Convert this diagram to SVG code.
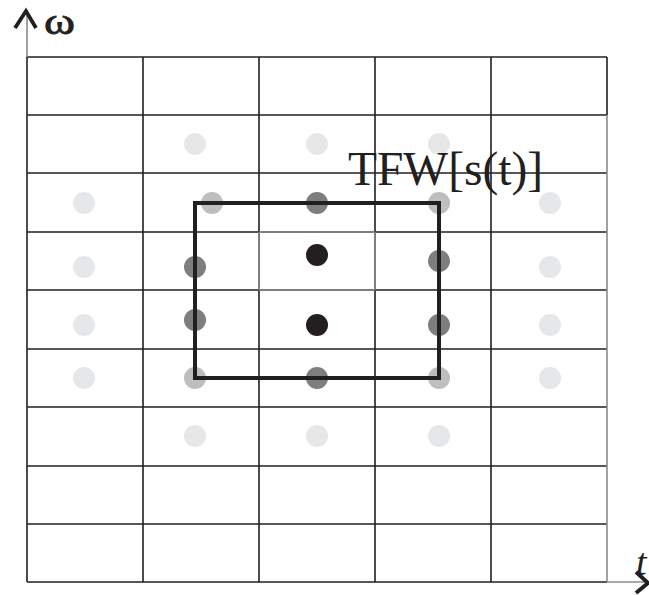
<svg xmlns="http://www.w3.org/2000/svg" width="649" height="595" viewBox="0 0 649 595">
<style>
.g{stroke:#231f20;stroke-width:1.6;fill:none}
.gl{stroke:#8a8b8d;stroke-width:1.6;fill:none}
.ax{stroke:#231f20;stroke-width:3.8;fill:none;stroke-linecap:butt}
.d0{fill:#e6e7e8}.d1{fill:#bcbec0}.d2{fill:#7d7e80}.d3{fill:#231f20}
text{font-family:"Liberation Serif","Times New Roman",serif;fill:#231f20}
</style>
<rect width="649" height="595" fill="#fff"/>
<g id="grid">
<path class="g" d="M27 57H607M27 115H607M27 173H607M27 232H607M27 290H607M27 349H607M27 407H607M27 466H607M27 524H607M27 582H607"/>
<path class="g" d="M27 57V582M143 57V582M259 57V582M375 57V582M491 57V582M607 57V115"/>
<path class="gl" d="M607 115V582M259 232H375M259 290H375M259 232V290M375 232V290"/>
</g>
<g id="axes">
<path class="gl" d="M27 10V57" stroke-width="1.2"/>
<path class="ax" d="M15 28L26 11L36 28"/>
<path class="gl" d="M607 582H648"/>
<path class="ax" d="M636 572L648 583L636 593"/>
<text id="omega" x="44" y="34" font-size="38" stroke="#231f20" stroke-width="0.8" textLength="31" lengthAdjust="spacingAndGlyphs">ω</text>
<text id="t" x="636" y="575" font-size="38" font-style="italic">t</text>
</g>
<g id="dots">
<circle class="d0" cx="195" cy="144" r="11"/><circle class="d0" cx="317" cy="144" r="11"/><circle class="d0" cx="439" cy="144" r="11"/>
<circle class="d0" cx="84" cy="203" r="11"/><circle class="d0" cx="550" cy="203" r="11"/>
<circle class="d0" cx="84" cy="267" r="11"/><circle class="d0" cx="550" cy="267" r="11"/>
<circle class="d0" cx="84" cy="325" r="11"/><circle class="d0" cx="550" cy="325" r="11"/>
<circle class="d0" cx="84" cy="378" r="11"/><circle class="d0" cx="550" cy="378" r="11"/>
<circle class="d0" cx="195" cy="436" r="11"/><circle class="d0" cx="317" cy="436" r="11"/><circle class="d0" cx="439" cy="436" r="11"/>
<circle class="d1" cx="212" cy="203" r="11"/><circle class="d1" cx="439" cy="203" r="11"/>
<circle class="d1" cx="195" cy="378" r="11"/><circle class="d1" cx="439" cy="378" r="11"/>
<circle class="d2" cx="317" cy="203" r="11"/><circle class="d2" cx="317" cy="378" r="11"/>
<circle class="d2" cx="195" cy="267" r="11"/><circle class="d2" cx="195" cy="320" r="11"/>
<circle class="d2" cx="439" cy="261" r="11"/><circle class="d2" cx="439" cy="325" r="11"/>
<circle class="d3" cx="317" cy="255" r="11"/><circle class="d3" cx="317" cy="325" r="11"/>
</g>
<g id="window">
<rect x="195" y="203" width="244" height="175" fill="none" stroke="#231f20" stroke-width="4"/>
<text x="348" y="185" font-size="48" textLength="195" lengthAdjust="spacingAndGlyphs">TFW[s(t)]</text>
</g>
</svg>
